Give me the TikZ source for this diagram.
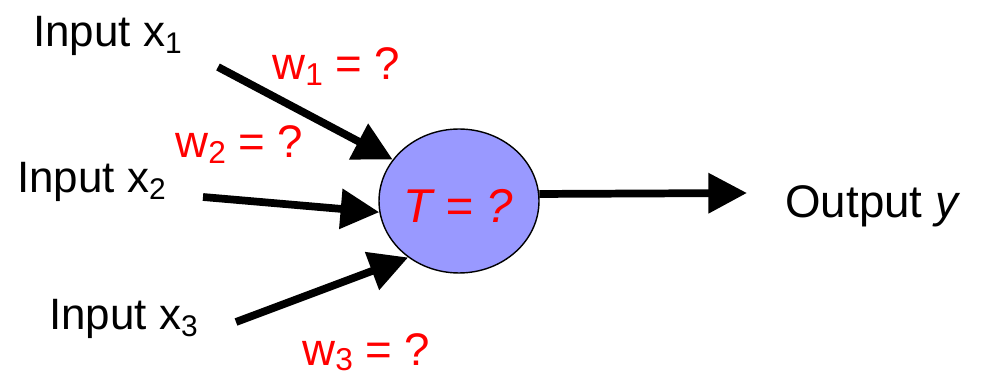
\documentclass[tikz,border=0pt]{standalone}
\usepackage{fontspec}
\setmainfont{Liberation Sans}
\usetikzlibrary{arrows.meta,shapes.geometric}
\definecolor{neuronfill}{HTML}{9999FF}
\newcommand\lowsub[1]{\raisebox{-3.5pt}{\fontsize{17}{17}\selectfont #1}}
\newcommand\wsub[1]{\raisebox{-3pt}{\fontsize{18}{18}\selectfont #1}}
\begin{document}
\begin{tikzpicture}[x=0.02cm,y=-0.02cm,
  lbl/.style={anchor=base west, inner sep=0pt, font=\fontsize{25}{30}\selectfont},
  wlbl/.style={anchor=base west, inner sep=0pt, text=red, font=\fontsize{26}{30}\selectfont},
  arr/.style={line width=4.4pt, -{Triangle[length=22pt,width=22pt]}},
]
\useasboundingbox (0,0) rectangle (982,374);
\node[ellipse, draw, line width=0.8pt, fill=neuronfill, minimum width=3.2cm, minimum height=2.88cm, inner sep=0pt] (neuron) at (459,201) {};
\node[anchor=base west, inner sep=0pt, text=red, font=\fontsize{27}{30}\selectfont\itshape] (tlabel) at (403,223) {T = ?};

\node[lbl] (x1) at (33,47) {Input x\lowsub{1}};
\node[lbl] (x2) at (17,193) {Input x\lowsub{2}};
\node[lbl] (x3) at (49,330) {Input x\lowsub{3}};

\node[wlbl] (w1) at (272,80) {w\wsub{1} = ?};
\node[wlbl] (w2) at (175,158) {w\wsub{2} = ?};
\node[wlbl] (w3) at (302,365) {w\wsub{3} = ?};

\node[anchor=base west, inner sep=0pt, font=\fontsize{26}{30}\selectfont] (out) at (785,218) {Output \textit{y}};

\coordinate (s1) at (218,67);
\coordinate (s2) at (203,197);
\coordinate (s3) at (236,322);
\coordinate (t4) at (747,193);

\draw[arr] (s1) -- (neuron.148.6);
\draw[arr] (s2) -- (neuron.188);
\draw[arr] (s3) -- (neuron.228.8);
\draw[arr] (neuron.5.7) -- (t4);
\end{tikzpicture}
\end{document}
